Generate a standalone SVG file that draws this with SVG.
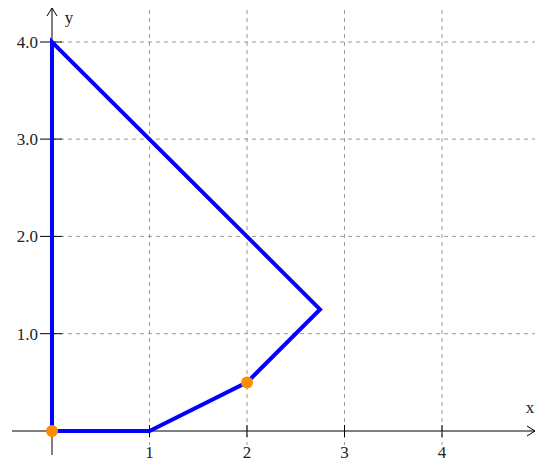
<svg xmlns="http://www.w3.org/2000/svg" width="539" height="463" viewBox="0 0 539 463">
<style>
.grid{stroke:#999;stroke-width:1;stroke-dasharray:4,4;fill:none}
.axis{stroke:#000;stroke-width:1;fill:none}
.lbl{font-family:"Liberation Serif","DejaVu Serif",serif;font-size:17px;fill:#222}
.shape{stroke:#0000FF;stroke-width:4;fill:none;stroke-linejoin:miter}
.pt{fill:#FF8C00}
</style>
<rect width="539" height="463" fill="#fff"/>
<g id="grid">
<line class="grid" x1="149.5" y1="10" x2="149.5" y2="445"/>
<line class="grid" x1="247" y1="10" x2="247" y2="445"/>
<line class="grid" x1="344.5" y1="10" x2="344.5" y2="445"/>
<line class="grid" x1="442" y1="10" x2="442" y2="445"/>
<line class="grid" x1="52" y1="333.7" x2="535" y2="333.7"/>
<line class="grid" x1="52" y1="236.4" x2="535" y2="236.4"/>
<line class="grid" x1="52" y1="139.1" x2="535" y2="139.1"/>
<line class="grid" x1="52" y1="42" x2="535" y2="42"/>
</g>
<g id="axes">
<line class="axis" x1="12" y1="431" x2="535" y2="431"/>
<polyline class="axis" points="527,426 535,431 527,436"/>
<line class="axis" x1="52" y1="455" x2="52" y2="8"/>
<polyline class="axis" points="47,16 52,8 57,16"/>
<line class="axis" x1="149.5" y1="425" x2="149.5" y2="437"/>
<line class="axis" x1="247" y1="425" x2="247" y2="437"/>
<line class="axis" x1="344.5" y1="425" x2="344.5" y2="437"/>
<line class="axis" x1="442" y1="425" x2="442" y2="437"/>
<line class="axis" x1="40" y1="333.7" x2="62" y2="333.7"/>
<line class="axis" x1="40" y1="236.4" x2="62" y2="236.4"/>
<line class="axis" x1="40" y1="139.1" x2="62" y2="139.1"/>
<line class="axis" x1="40" y1="42" x2="62" y2="42"/>
</g>
<g id="labels">
<text class="lbl" x="149.5" y="458" text-anchor="middle">1</text>
<text class="lbl" x="247" y="458" text-anchor="middle">2</text>
<text class="lbl" x="344.5" y="458" text-anchor="middle">3</text>
<text class="lbl" x="442" y="458" text-anchor="middle">4</text>
<text class="lbl" x="38" y="339.5" text-anchor="end">1.0</text>
<text class="lbl" x="38" y="242" text-anchor="end">2.0</text>
<text class="lbl" x="38" y="145" text-anchor="end">3.0</text>
<text class="lbl" x="38" y="48" text-anchor="end">4.0</text>
<text class="lbl" x="530" y="413" text-anchor="middle">x</text>
<text class="lbl" x="69" y="23" text-anchor="middle">y</text>
</g>
<g id="polygon">
<polygon class="shape" points="52,431 52,42 320,309.4 247,382.4 149.5,431"/>
</g>
<g id="points">
<circle class="pt" cx="52" cy="431" r="6"/>
<circle class="pt" cx="247" cy="382.4" r="6"/>
</g>
</svg>
